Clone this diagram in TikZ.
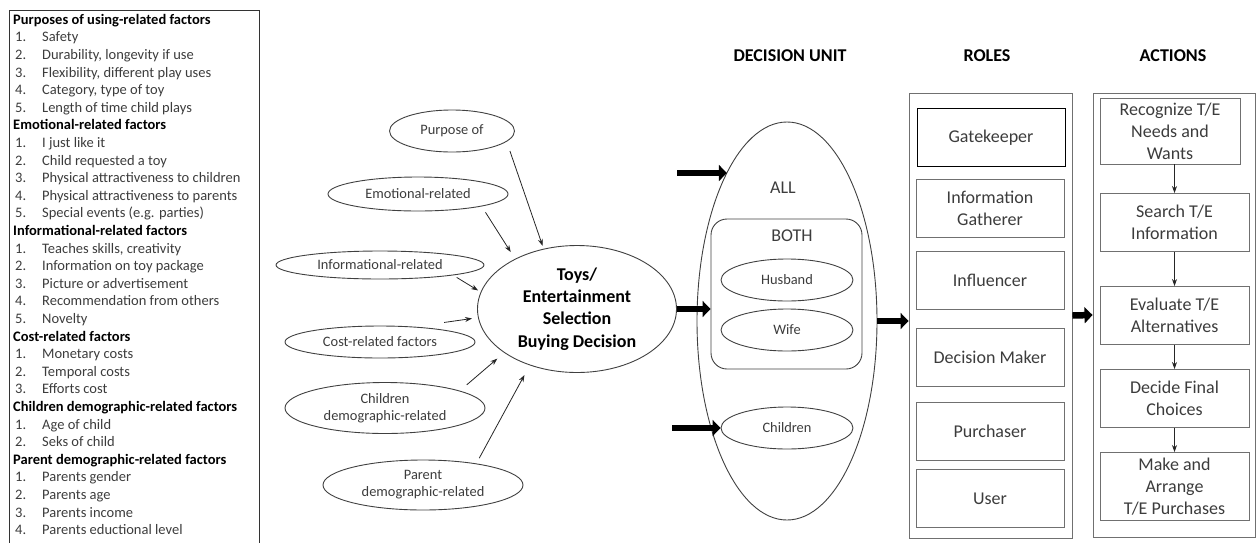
\documentclass[tikz,border=0pt]{standalone}
\usepackage{fontspec}
\setmainfont{Carlito}
\usetikzlibrary{shapes.geometric,arrows.meta}
\definecolor{txtgray}{HTML}{3C3C3C}
\definecolor{linegray}{HTML}{707070}
\newcommand{\fitem}[2]{\hspace*{2pt}\makebox[27pt][l]{#1}#2}
\newcommand{\fhead}[1]{\textcolor{black}{\bfseries #1}}
\tikzset{
  listtxt/.style={anchor=north west, inner sep=0pt, align=left, text=txtgray, font=\fontsize{14.5}{17.6}\selectfont},
  factor/.style={ellipse, draw=black!75, line width=0.9pt, inner sep=0pt, align=center, text=txtgray, font=\fontsize{14.4}{17}\selectfont},
  mainell/.style={ellipse, draw=black!75, line width=0.9pt, inner sep=0pt, align=center, minimum width=199pt, minimum height=127pt, font=\bfseries\fontsize{18}{22.3}\selectfont},
  member/.style={ellipse, draw=black!75, line width=0.9pt, inner sep=0pt, minimum width=132pt, minimum height=42pt, text=txtgray, font=\fontsize{14.4}{17}\selectfont},
  bigtxt/.style={inner sep=0pt, text=txtgray, font=\fontsize{18}{22}\selectfont},
  title/.style={inner sep=0pt, font=\bfseries\fontsize{18}{22}\selectfont},
  outer/.style={rectangle, draw=linegray, line width=0.9pt, inner sep=0pt},
  rolebox/.style={rectangle, draw=linegray, line width=0.9pt, minimum width=148pt, minimum height=58pt, inner sep=0pt, align=center, text=txtgray, font=\fontsize{18}{22}\selectfont},
  actbox/.style={rectangle, draw=linegray, line width=0.9pt, minimum width=149pt, minimum height=58pt, inner sep=0pt, align=center, text=txtgray, font=\fontsize{18}{22}\selectfont},
  arr/.style={black!85, line width=0.8pt, -{Stealth[length=7pt,width=5pt]}},
  fat/.style={black, line width=6.5pt, -{Triangle[length=8pt,width=16pt]}}
}
\begin{document}
\begin{tikzpicture}[x=1pt,y=-1pt]
\useasboundingbox (0,0) rectangle (1256,542);
\draw[black!80, line width=0.9pt] (9,10) rectangle (259,560);
\node[listtxt] (factors) at (13,14) {%
\fhead{Purposes of using-related factors}\\
\fitem{1.}{Safety}\\
\fitem{2.}{Durability, longevity if use}\\
\fitem{3.}{Flexibility, different play uses}\\
\fitem{4.}{Category, type of toy}\\
\fitem{5.}{Length of time child plays}\\
\fhead{Emotional-related factors}\\
\fitem{1.}{I just like it}\\
\fitem{2.}{Child requested a toy}\\
\fitem{3.}{Physical attractiveness to children}\\
\fitem{4.}{Physical attractiveness to parents}\\
\fitem{5.}{Special events (e.g. parties)}\\
\fhead{Informational-related factors}\\
\fitem{1.}{Teaches skills, creativity}\\
\fitem{2.}{Information on toy package}\\
\fitem{3.}{Picture or advertisement}\\
\fitem{4.}{Recommendation from others}\\
\fitem{5.}{Novelty}\\
\fhead{Cost-related factors}\\
\fitem{1.}{Monetary costs}\\
\fitem{2.}{Temporal costs}\\
\fitem{3.}{Efforts cost}\\
\fhead{Children demographic-related factors}\\
\fitem{1.}{Age of child}\\
\fitem{2.}{Seks of child}\\
\fhead{Parent demographic-related factors}\\
\fitem{1.}{Parents gender}\\
\fitem{2.}{Parents age}\\
\fitem{3.}{Parents income}\\
\fitem{4.}{Parents eductional level}};

\node[factor, minimum width=125pt, minimum height=42pt] (purpose) at (452,131) {Purpose of};
\node[factor, minimum width=180pt, minimum height=34pt] (emo) at (418,194) {Emotional-related};
\node[factor, minimum width=208pt, minimum height=28pt] (info) at (380,265) {Informational-related};
\node[factor, minimum width=190pt, minimum height=32pt] (cost) at (380,342) {Cost-related factors};
\node[factor, minimum width=200pt, minimum height=51pt] (child) at (385,408) {Children\\demographic-related};
\node[factor, minimum width=200pt, minimum height=50pt] (parent) at (423,485) {Parent\\demographic-related};
\node[mainell] (main) at (577,309) {Toys/\\Entertainment\\Selection\\Buying Decision};

\draw[arr, shorten <=10pt, shorten >=3pt] (purpose.-11) -- (main.119);
\draw[arr, shorten <=7pt, shorten >=8pt] (emo.-11) -- (main.141);
\draw[arr, shorten <=4pt, shorten >=3pt] (info.-8) -- (main.170);
\draw[arr, shorten <=30pt, shorten >=6pt] (cost.24) -- (main.185);
\draw[arr, shorten <=9pt, shorten >=9pt] (child.13) -- (main.211);
\draw[arr, shorten <=6pt, shorten >=11pt] (parent.22) -- (main.230);

\node[title] (dutitle) at (790,56) {DECISION UNIT};
\node[ellipse, draw=black!75, line width=0.9pt, minimum width=180pt, minimum height=398pt] (dunit) at (787,321) {};
\node[bigtxt] (all) at (783,188) {ALL};
\node[rectangle, rounded corners=16pt, draw=black!75, line width=0.9pt, minimum width=151pt, minimum height=150pt] (both) at (786.5,294) {};
\node[bigtxt] (bothlbl) at (792,236) {BOTH};
\node[member] (husband) at (787,280) {Husband};
\node[member] (wife) at (787,330) {Wife};
\node[member] (kids) at (787,428) {Children};
\coordinate (allin) at (677,173);
\coordinate (kidsin) at (672,428);

\draw[fat] (allin) -- (allin -| dunit.112);
\draw[fat] (main.east) -- (main.east -| both.west);
\draw[fat] (kidsin) -- (kids.west);

\node[title] (rtitle) at (987,56) {ROLES};
\node[outer, minimum width=163pt, minimum height=445pt] (roles) at (990.5,315.5) {};
\node[rolebox, draw=black] (gate) at (991,137.5) {Gatekeeper};
\node[rolebox] (gather) at (990,208) {Information\\Gatherer};
\node[rolebox] (influ) at (990,280) {Influencer};
\node[rolebox] (maker) at (990,357) {Decision Maker};
\node[rolebox] (buyer) at (990,431) {Purchaser};
\node[rolebox] (user) at (990,498.5) {User};

\node[title] (atitle) at (1173,56) {ACTIONS};
\node[outer, minimum width=162pt, minimum height=444pt] (actions) at (1174,315) {};
\node[actbox, minimum width=140pt, minimum height=66pt] (rec) at (1170,131) {Recognize T/E\\Needs and\\Wants};
\node[actbox] (srch) at (1174.5,222.5) {Search T/E\\Information};
\node[actbox] (eval) at (1174.5,315.5) {Evaluate T/E\\Alternatives};
\node[actbox] (decide) at (1174.5,398.5) {Decide Final\\Choices};
\node[actbox, minimum height=68pt] (make) at (1174.5,486.5) {Make and\\Arrange\\T/E Purchases};

\draw[fat] (dunit.east) -- (dunit.east -| roles.west);
\draw[fat] (roles.east) -- (actions.west);
\draw[arr] (rec.south -| srch.north) -- (srch.north);
\draw[arr] (srch) -- (eval);
\draw[arr] (eval) -- (decide);
\draw[arr] (decide) -- (make);
\end{tikzpicture}
\end{document}
